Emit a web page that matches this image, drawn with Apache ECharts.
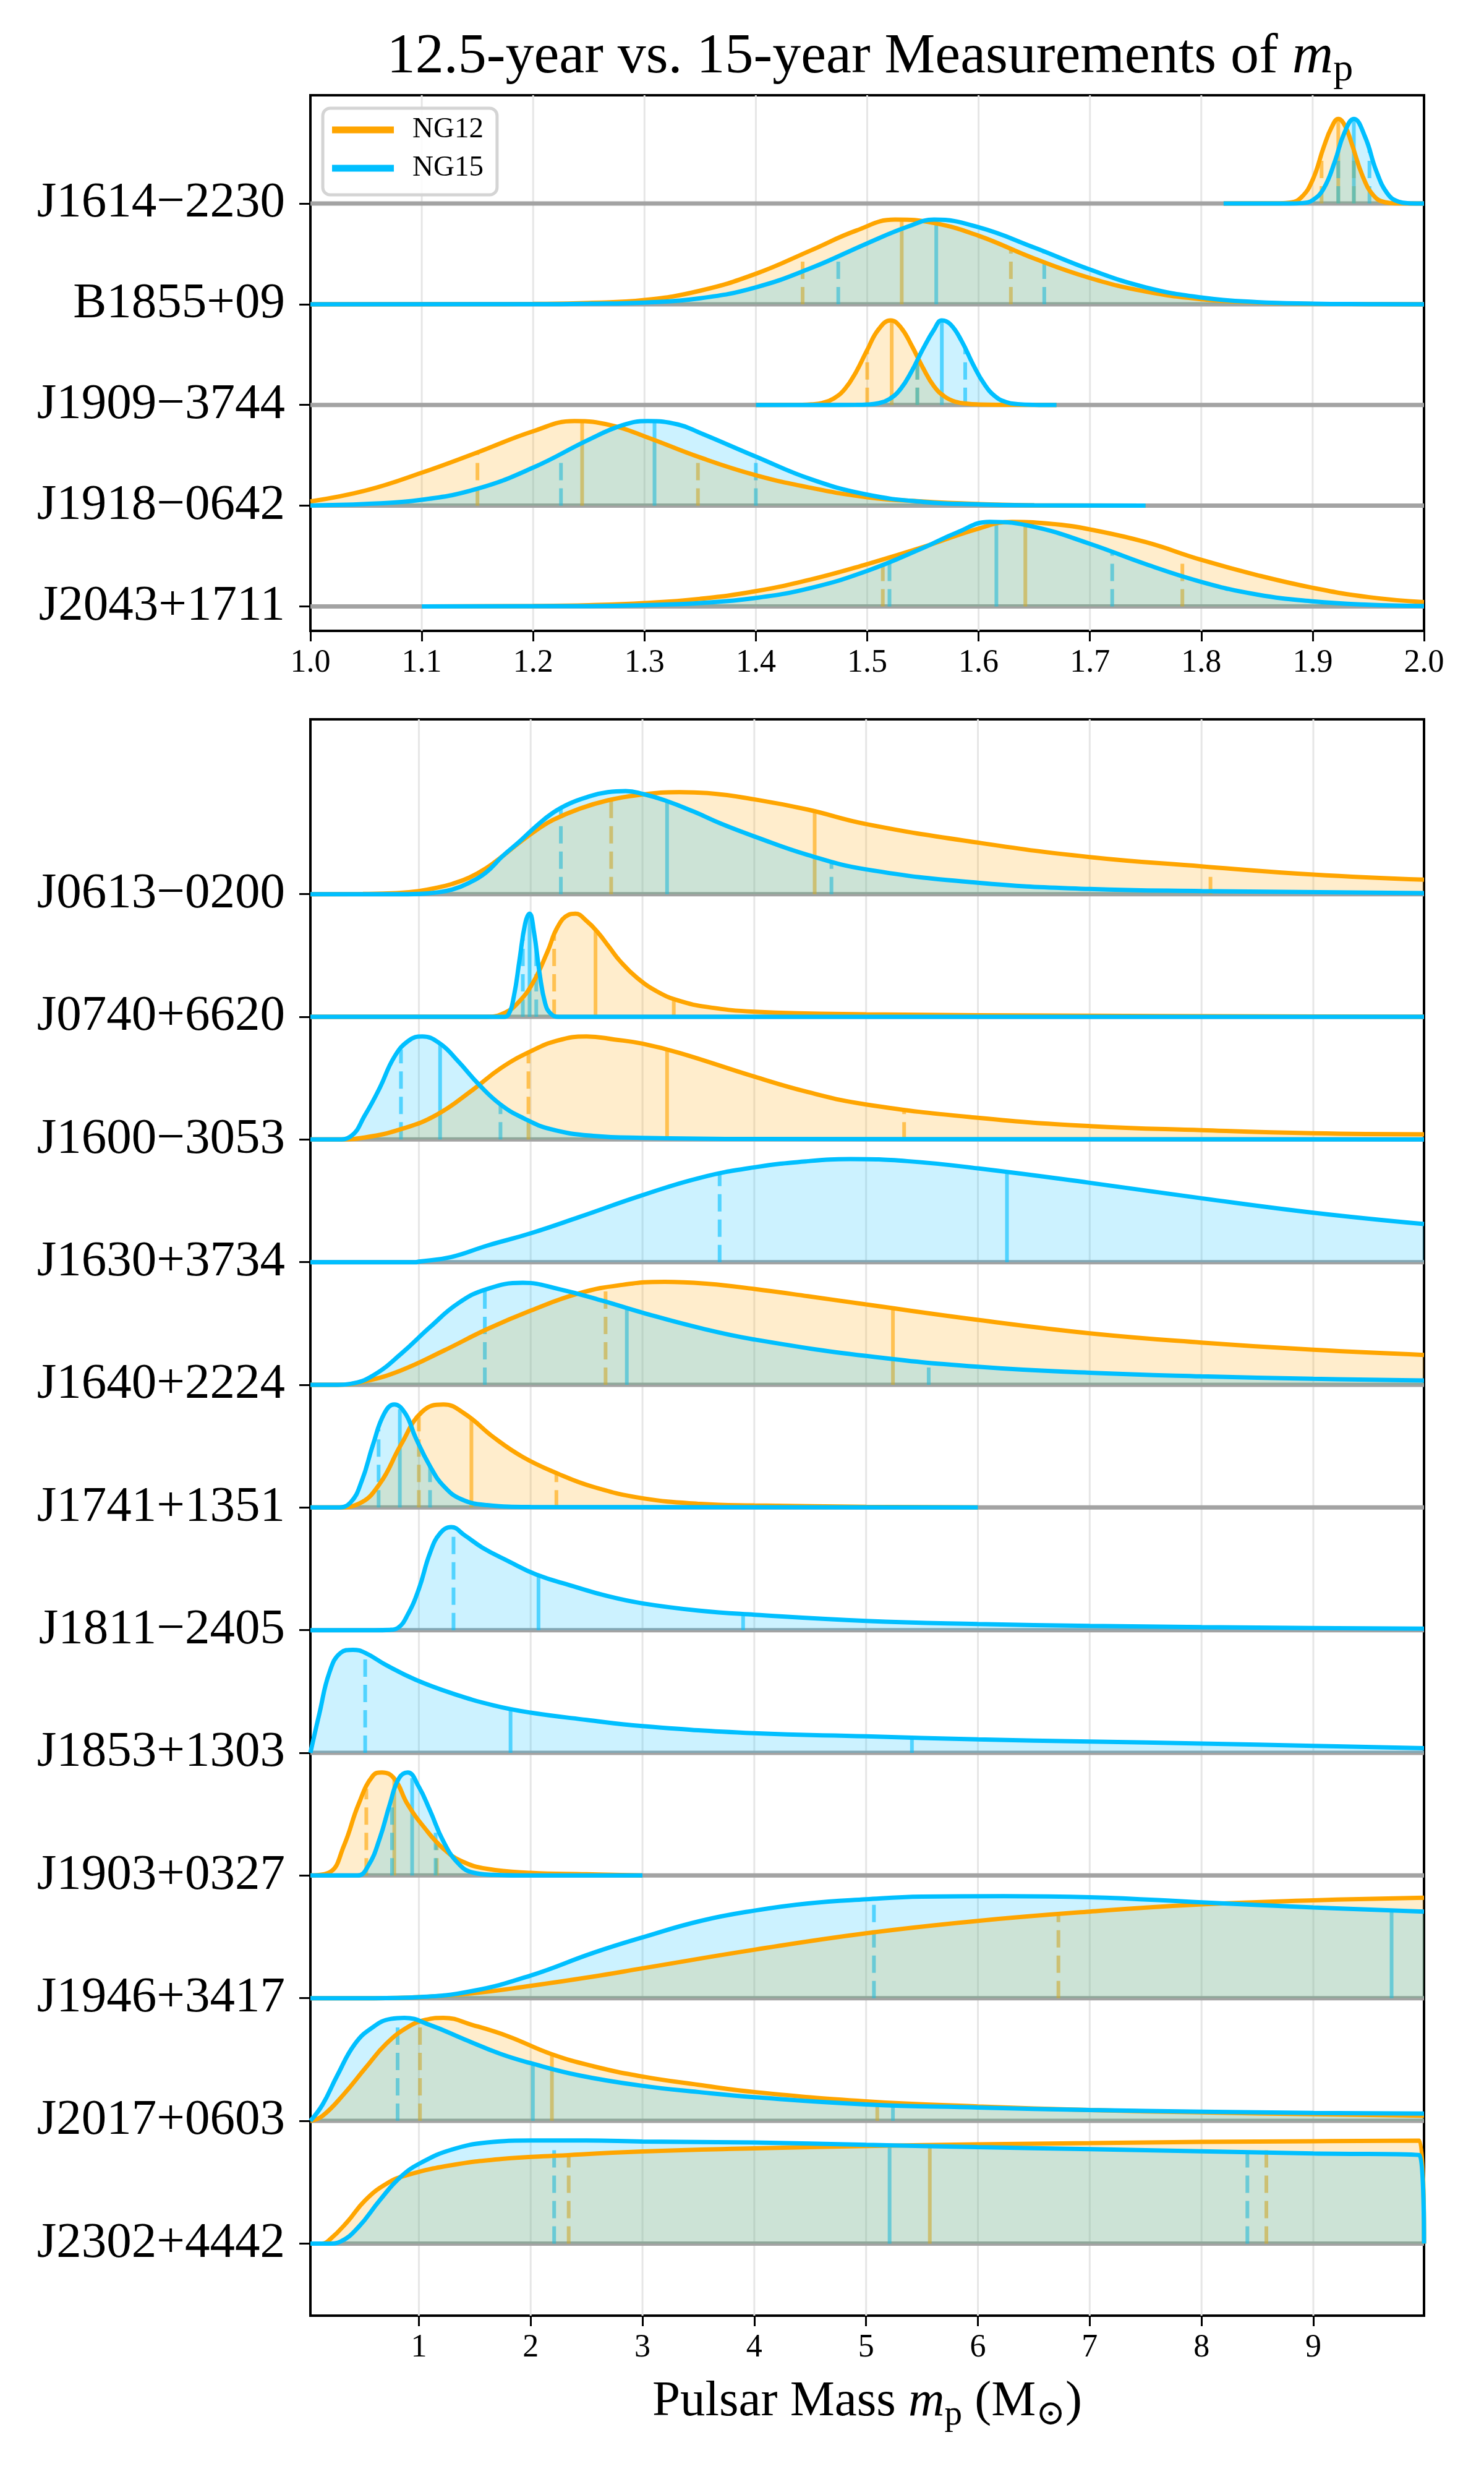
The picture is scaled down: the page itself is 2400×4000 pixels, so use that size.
<!DOCTYPE html>
<html>
<head>
<meta charset="utf-8">
<script src="https://cdn.jsdelivr.net/npm/echarts@6.0.0/dist/echarts.min.js"></script>
<style>
  html, body { margin: 0; padding: 0; background: #fff; }
  #chart { width: 2400px; height: 4000px; }
</style>
</head>
<body>
<div id="chart"></div>
<script>
// ---- data ----
// curves are [mass, density normalised to peak = 1]
const topNames = ['J1614−2230', 'B1855+09', 'J1909−3744', 'J1918−0642', 'J2043+1711'];
const topTicks = [1.1, 1.2, 1.3, 1.4, 1.5, 1.6, 1.7, 1.8, 1.9];

const topNG12 = [
  [[1.82,0],[1.87,0.003],[1.88,0.012],[1.89,0.075],[1.90,0.28],[1.91,0.67],[1.917,0.9],[1.923,1.0],[1.929,0.92],[1.935,0.71],[1.945,0.32],[1.955,0.09],[1.965,0.015],[1.975,0.002],[2.0,0]],
  [[1.0,0],[1.15,0.001],[1.2,0.004],[1.25,0.016],[1.30,0.05],[1.35,0.16],[1.40,0.36],[1.45,0.64],[1.49,0.87],[1.525,1.0],[1.56,0.96],[1.60,0.81],[1.65,0.54],[1.70,0.31],[1.75,0.15],[1.80,0.06],[1.85,0.02],[1.90,0.005],[2.0,0]],
  [[1.40,0],[1.44,0.002],[1.45,0.007],[1.46,0.025],[1.47,0.077],[1.48,0.19],[1.49,0.39],[1.50,0.65],[1.51,0.89],[1.521,1.0],[1.53,0.92],[1.54,0.70],[1.55,0.44],[1.56,0.22],[1.57,0.095],[1.58,0.035],[1.59,0.014],[1.60,0.006],[1.62,0.002],[1.67,0]],
  [[1.0,0.05],[1.05,0.18],[1.10,0.39],[1.15,0.63],[1.20,0.88],[1.237,1.0],[1.27,0.95],[1.30,0.82],[1.35,0.57],[1.40,0.36],[1.45,0.21],[1.50,0.10],[1.55,0.05],[1.60,0.02],[1.65,0.005],[1.75,0]],
  [[1.10,0],[1.20,0.005],[1.25,0.015],[1.30,0.04],[1.35,0.09],[1.40,0.18],[1.45,0.32],[1.50,0.50],[1.55,0.70],[1.60,0.92],[1.63,1.0],[1.67,0.97],[1.70,0.91],[1.75,0.76],[1.80,0.55],[1.85,0.37],[1.90,0.22],[1.95,0.11],[2.0,0.05]]
];
const topNG15 = [
  [[1.82,0],[1.88,0],[1.89,0.005],[1.90,0.04],[1.91,0.18],[1.92,0.50],[1.928,0.82],[1.937,1.0],[1.947,0.79],[1.957,0.39],[1.967,0.12],[1.977,0.022],[1.987,0.003],[2.0,0]],
  [[1.0,0],[1.2,0.001],[1.25,0.006],[1.30,0.02],[1.35,0.07],[1.40,0.20],[1.45,0.43],[1.50,0.72],[1.537,0.92],[1.56,1.0],[1.60,0.91],[1.65,0.67],[1.70,0.41],[1.75,0.20],[1.80,0.08],[1.85,0.025],[1.90,0.007],[1.95,0.002],[2.0,0]],
  [[1.40,0],[1.49,0.001],[1.50,0.005],[1.51,0.02],[1.52,0.07],[1.53,0.19],[1.54,0.40],[1.55,0.66],[1.56,0.89],[1.567,1.0],[1.575,0.95],[1.585,0.75],[1.595,0.48],[1.605,0.25],[1.615,0.10],[1.625,0.033],[1.635,0.01],[1.65,0.001],[1.67,0]],
  [[1.0,0.003],[1.05,0.02],[1.10,0.07],[1.15,0.20],[1.20,0.45],[1.25,0.78],[1.28,0.95],[1.303,1.0],[1.33,0.96],[1.35,0.86],[1.40,0.58],[1.45,0.31],[1.50,0.13],[1.55,0.045],[1.60,0.015],[1.65,0.004],[1.75,0]],
  [[1.10,0],[1.25,0.004],[1.30,0.015],[1.35,0.04],[1.40,0.10],[1.45,0.22],[1.50,0.42],[1.55,0.69],[1.58,0.87],[1.61,1.0],[1.65,0.94],[1.70,0.74],[1.75,0.50],[1.80,0.29],[1.85,0.14],[1.90,0.06],[1.95,0.02],[2.0,0.005]]
];
// 16th, 50th, 84th percentiles
const topQ12 = [[1.908,1.923,1.937],[1.442,1.531,1.629],[1.500,1.522,1.545],[1.150,1.244,1.348],[1.514,1.642,1.783]];
const topQ15 = [[1.923,1.937,1.951],[1.474,1.562,1.659],[1.545,1.567,1.588],[1.225,1.309,1.400],[1.520,1.616,1.720]];

const botNames = ['J0613−0200', 'J0740+6620', 'J1600−3053', 'J1630+3734', 'J1640+2224', 'J1741+1351',
                  'J1811−2405', 'J1853+1303', 'J1903+0327', 'J1946+3417', 'J2017+0603', 'J2302+4442'];
const botTicks = [1, 2, 3, 4, 5, 6, 7, 8, 9];

const botNG12 = [
  [[0.03,0],[0.5,0.002],[0.8,0.01],[1.0,0.03],[1.15,0.06],[1.3,0.1],[1.45,0.16],[1.6,0.25],[1.75,0.37],[1.9,0.5],[2.05,0.62],[2.2,0.72],[2.44,0.83],[2.69,0.91],[2.95,0.96],[3.33,0.99],[3.58,0.98],[4.0,0.92],[4.48,0.82],[5.0,0.68],[6.0,0.50],[7.0,0.36],[8.0,0.27],[9.0,0.19],[9.99,0.14]],
  [[0.03,0],[1.61,0],[1.77,0.04],[1.89,0.14],[2.02,0.33],[2.15,0.63],[2.24,0.87],[2.34,0.99],[2.40,1.0],[2.5,0.93],[2.6,0.82],[2.7,0.68],[2.8,0.54],[2.95,0.38],[3.14,0.24],[3.33,0.155],[3.58,0.095],[4.0,0.05],[5.0,0.024],[7.0,0.01],[9.99,0]],
  [[0.03,0],[0.27,0],[0.52,0.02],[0.84,0.10],[1.16,0.24],[1.48,0.48],[1.73,0.69],[1.99,0.85],[2.24,0.96],[2.50,1.0],[2.75,0.97],[3.0,0.93],[3.33,0.84],[4.0,0.61],[4.48,0.46],[5.0,0.34],[6.0,0.21],[7.0,0.13],[8.0,0.09],[9.0,0.06],[9.99,0.05]],
  null,
  [[0.03,0],[0.27,0],[0.52,0.035],[0.84,0.14],[1.22,0.33],[1.61,0.54],[2.0,0.72],[2.44,0.89],[2.82,0.97],[3.20,1.0],[3.59,0.98],[4.0,0.93],[4.48,0.86],[5.0,0.78],[6.0,0.63],[7.0,0.50],[8.0,0.41],[9.0,0.34],[9.99,0.29]],
  [[0.03,0],[0.27,0],[0.46,0.035],[0.65,0.23],[0.84,0.61],[1.03,0.93],[1.22,1.0],[1.41,0.91],[1.67,0.68],[1.93,0.49],[2.24,0.33],[2.56,0.20],[3.0,0.09],[3.52,0.035],[4.0,0.02],[5.0,0.007],[6.0,0]],
  null,
  null,
  [[0.03,0],[0.20,0.03],[0.33,0.29],[0.46,0.69],[0.59,0.97],[0.67,1.0],[0.78,0.94],[0.90,0.69],[1.06,0.45],[1.22,0.26],[1.38,0.14],[1.61,0.065],[2.0,0.026],[2.5,0.012],[3.0,0]],
  [[0.03,0],[0.6,0],[1.0,0.01],[1.48,0.047],[2.0,0.12],[2.56,0.21],[3.0,0.29],[4.0,0.47],[5.0,0.63],[6.0,0.75],[7.0,0.84],[8.0,0.91],[9.0,0.95],[9.99,0.975]],
  [[0.03,0],[0.14,0.05],[0.33,0.26],[0.52,0.51],[0.71,0.75],[0.90,0.91],[1.06,0.98],[1.22,1.0],[1.48,0.93],[1.80,0.82],[2.18,0.65],[2.56,0.53],[3.0,0.43],[3.5,0.35],[4.0,0.28],[5.0,0.19],[6.0,0.14],[7.0,0.105],[8.0,0.082],[9.0,0.065],[9.99,0.05]],
  [[0.03,0],[0.13,0],[0.20,0.035],[0.36,0.21],[0.52,0.42],[0.71,0.58],[0.90,0.666],[1.29,0.76],[1.73,0.82],[2.24,0.853],[3.0,0.893],[4.0,0.923],[5.0,0.946],[6.0,0.963],[7.0,0.974],[8.0,0.986],[9.0,0.993],[9.95,0.998],[9.99,0]]
];
const botNG15 = [
  [[0.03,0],[0.9,0],[1.0,0.002],[1.15,0.015],[1.3,0.045],[1.45,0.11],[1.6,0.21],[1.75,0.37],[1.9,0.51],[2.05,0.66],[2.2,0.79],[2.35,0.88],[2.5,0.94],[2.69,0.99],[2.85,1.0],[3.01,0.97],[3.20,0.91],[3.46,0.80],[3.71,0.68],[4.0,0.56],[4.48,0.38],[5.0,0.24],[6.0,0.11],[7.0,0.05],[8.0,0.03],[9.99,0.01]],
  [[0.03,0],[1.75,0],[1.80,0.02],[1.85,0.2],[1.90,0.55],[1.95,0.9],[1.99,1.0],[2.03,0.82],[2.08,0.42],[2.13,0.13],[2.18,0.03],[2.25,0],[9.99,0]],
  [[0.03,0],[0.27,0],[0.39,0.03],[0.52,0.24],[0.65,0.50],[0.78,0.80],[0.91,0.96],[1.03,1.0],[1.19,0.93],[1.35,0.76],[1.54,0.53],[1.73,0.34],[1.93,0.21],[2.18,0.10],[2.56,0.035],[3.0,0.016],[4.0,0.005],[9.99,0]],
  [[0.03,0],[0.97,0],[1.0,0.005],[1.29,0.05],[1.61,0.16],[2.0,0.28],[2.44,0.44],[3.0,0.65],[3.52,0.82],[4.0,0.92],[4.48,0.98],[4.86,1.0],[5.37,0.98],[6.0,0.91],[7.0,0.77],[8.0,0.62],[9.0,0.48],[9.99,0.37]],
  [[0.03,0],[0.27,0],[0.39,0.01],[0.59,0.09],[0.84,0.30],[1.10,0.56],[1.35,0.79],[1.61,0.93],[1.93,0.99],[2.25,0.93],[2.63,0.82],[3.0,0.70],[3.52,0.55],[4.0,0.44],[5.0,0.28],[6.0,0.175],[7.0,0.117],[8.0,0.082],[9.0,0.058],[9.99,0.042]],
  [[0.03,0],[0.27,0],[0.39,0.05],[0.49,0.26],[0.59,0.61],[0.69,0.91],[0.78,1.0],[0.88,0.91],[0.97,0.68],[1.10,0.40],[1.22,0.21],[1.38,0.08],[1.61,0.023],[2.0,0.005],[6.0,0]],
  [[0.03,0],[0.6,0],[0.74,0.003],[0.81,0.02],[0.90,0.15],[1.0,0.40],[1.10,0.75],[1.19,0.94],[1.29,1.0],[1.41,0.92],[1.57,0.80],[1.80,0.67],[2.05,0.54],[2.37,0.43],[2.69,0.33],[3.0,0.26],[3.5,0.19],[4.0,0.15],[5.0,0.09],[6.0,0.06],[7.0,0.042],[8.0,0.03],[9.0,0.021],[9.99,0.014]],
  [[0.03,0],[0.11,0.38],[0.20,0.78],[0.30,0.97],[0.41,1.0],[0.52,0.97],[0.71,0.85],[0.97,0.71],[1.29,0.58],[1.67,0.46],[2.0,0.39],[2.5,0.32],[3.0,0.26],[4.0,0.19],[5.0,0.16],[6.0,0.13],[7.0,0.11],[8.0,0.09],[9.0,0.068],[9.99,0.045]],
  [[0.03,0],[0.45,0],[0.55,0.10],[0.65,0.36],[0.74,0.69],[0.82,0.94],[0.90,1.0],[1.0,0.86],[1.10,0.63],[1.22,0.33],[1.35,0.12],[1.48,0.03],[1.67,0.007],[2.0,0],[3.0,0]],
  [[0.03,0],[0.6,0],[1.0,0.01],[1.48,0.07],[2.0,0.22],[2.56,0.44],[3.0,0.59],[3.52,0.75],[4.0,0.85],[4.48,0.92],[5.0,0.96],[5.5,0.985],[6.23,0.99],[7.0,0.98],[8.0,0.93],[9.0,0.88],[9.99,0.84]],
  [[0.03,0],[0.14,0.16],[0.27,0.44],[0.43,0.75],[0.59,0.91],[0.75,0.99],[0.87,1.0],[1.10,0.93],[1.41,0.79],[1.73,0.65],[2.0,0.56],[2.44,0.44],[3.0,0.34],[3.5,0.28],[4.0,0.23],[5.0,0.16],[6.0,0.13],[7.0,0.105],[8.0,0.089],[9.0,0.077],[9.99,0.07]],
  [[0.03,0],[0.2,0],[0.30,0.02],[0.46,0.16],[0.65,0.42],[0.84,0.65],[1.03,0.79],[1.29,0.91],[1.61,0.98],[2.0,1.0],[2.5,1.0],[3.0,0.99],[4.0,0.98],[5.0,0.958],[6.0,0.935],[7.0,0.916],[8.0,0.895],[9.0,0.874],[9.95,0.857],[9.99,0]]
];
const botQ12 = [[2.72,4.54,8.08],[2.21,2.58,3.28],[1.98,3.22,5.34],null,[2.67,5.24,null],[1.00,1.47,2.23],
                null,null,[0.53,0.78,1.16],[6.72,null,null],[1.01,2.19,5.10],[2.34,5.57,8.58]];
const botQ15 = [[2.27,3.22,4.69],[1.93,1.99,2.05],[0.84,1.19,1.73],[3.69,6.26,null],[1.59,2.86,5.56],[0.64,0.83,1.10],
                [1.31,2.07,3.90],[0.52,1.82,5.41],[0.76,0.94,1.15],[5.07,9.70,null],[0.81,2.02,5.24],[2.21,5.21,8.41]];

// ---- styling ----
const FONT = "'Liberation Serif', 'DejaVu Serif', serif";
const ORANGE = '#FFA500';
const CYAN = '#00BFFF';
const RIDGE = 0.84;   // peak height as a fraction of the row spacing
const TOP_X = [1.0, 2.0];
const BOT_X = [0.03, 9.99];

function heightAt(pts, x) {
  for (let k = 1; k < pts.length; k++) {
    if (x <= pts[k][0]) {
      const [x0, y0] = pts[k - 1], [x1, y1] = pts[k];
      return y0 + (y1 - y0) * (x - x0) / (x1 - x0);
    }
  }
  return 0;
}

function curveSeries(panel, names, curves, color, fill, label) {
  const out = [];
  curves.forEach((pts, i) => {
    if (!pts) return;
    const base = names.length - 1 - i;
    out.push({
      type: 'line', name: label, xAxisIndex: panel, yAxisIndex: panel,
      data: pts.map(p => [p[0], base + RIDGE * p[1]]),
      smooth: 0.45, showSymbol: false, symbol: 'none',
      lineStyle: { color: color, width: 7 },
      itemStyle: { color: color },
      areaStyle: { color: fill, origin: base, opacity: 1 },
      silent: true
    });
  });
  return out;
}

function quantSeries(panel, names, curves, quants, color) {
  const data = [];
  quants.forEach((qs, i) => {
    if (!qs) return;
    const base = names.length - 1 - i;
    qs.forEach((q, j) => {
      if (q == null) return;
      data.push([q, base, base + RIDGE * heightAt(curves[i], q), j === 1 ? 0 : 1]);
    });
  });
  return {
    type: 'custom', xAxisIndex: panel, yAxisIndex: panel, silent: true, data: data,
    renderItem: function (params, api) {
      const p0 = api.coord([api.value(0), api.value(1)]);
      const p1 = api.coord([api.value(0), api.value(2)]);
      return {
        type: 'line',
        shape: { x1: p0[0], y1: p0[1], x2: p1[0], y2: p1[1] },
        style: { stroke: color, lineWidth: 6, lineDash: api.value(3) ? [28, 13] : null }
      };
    }
  };
}

function gridSeries(panel, ticks) {
  return {
    type: 'custom', xAxisIndex: panel, yAxisIndex: panel, silent: true,
    data: ticks.map(t => [t, 0]),
    renderItem: function (params, api) {
      const x = api.coord([api.value(0), 0])[0];
      const cs = params.coordSys;
      return { type: 'line', shape: { x1: x, y1: cs.y, x2: x, y2: cs.y + cs.height },
               style: { stroke: '#e6e6e6', lineWidth: 3 } };
    }
  };
}

function baseSeries(panel, names, xmin) {
  return {
    type: 'custom', xAxisIndex: panel, yAxisIndex: panel, silent: true,
    data: names.map((n, i) => [xmin, names.length - 1 - i]),
    renderItem: function (params, api) {
      const y = api.coord([api.value(0), api.value(1)])[1];
      const cs = params.coordSys;
      return { type: 'line', shape: { x1: cs.x, y1: y, x2: cs.x + cs.width, y2: y },
               style: { stroke: '#a3a3a3', lineWidth: 7 } };
    }
  };
}

function yAxisFor(panel, names, min, max) {
  const rows = names.map((n, i) => i);
  return {
    gridIndex: panel, type: 'value', min: min, max: max,
    axisLine: { show: true, onZero: false, lineStyle: { color: '#000', width: 4 } },
    axisTick: { show: true, customValues: rows, length: 18, lineStyle: { color: '#000', width: 3 } },
    axisLabel: {
      customValues: rows, margin: 41, color: '#000', fontFamily: FONT, fontSize: 81,
      formatter: v => names[names.length - 1 - Math.round(v)]
    },
    splitLine: { show: false }
  };
}

const chart = echarts.init(document.getElementById('chart'));

const option = {
  animation: false,
  backgroundColor: '#fff',
  title: {
    text: '12.5-year vs. 15-year Measurements of {i|m}{s|p}',
    left: 1402, top: 36, textAlign: 'center',
    textStyle: {
      fontFamily: FONT, fontSize: 92, fontWeight: 'normal', color: '#000', lineHeight: 104,
      rich: {
        i: { fontFamily: FONT, fontStyle: 'italic', fontSize: 92, lineHeight: 104 },
        s: { fontFamily: FONT, fontSize: 64, lineHeight: 64, padding: [40, 0, 0, 0] }
      }
    }
  },
  legend: {
    data: [{ name: 'NG12', itemStyle: { color: ORANGE } }, { name: 'NG15', itemStyle: { color: CYAN } }],
    orient: 'vertical', left: 522, top: 175, icon: 'rect',
    itemWidth: 100, itemHeight: 11, itemGap: 12,
    padding: [10, 22, 18, 15],
    backgroundColor: 'rgba(255,255,255,0.85)', borderColor: '#d4d4d4', borderWidth: 5, borderRadius: 12,
    selectedMode: false,
    textStyle: { fontFamily: FONT, fontSize: 47, lineHeight: 50, color: '#000', padding: [0, 0, 0, 25] }
  },
  grid: [
    { left: 502, top: 154, width: 1801, height: 866, show: true, borderColor: '#000', borderWidth: 4 },
    { left: 502, top: 1163, width: 1801, height: 2581, show: true, borderColor: '#000', borderWidth: 4 }
  ],
  xAxis: [
    {
      gridIndex: 0, type: 'value', min: TOP_X[0], max: TOP_X[1], interval: 0.1,
      axisLine: { show: true, onZero: false, lineStyle: { color: '#000', width: 4 } },
      axisTick: { show: true, length: 17, lineStyle: { color: '#000', width: 3 } },
      axisLabel: { formatter: v => v.toFixed(1), margin: 26, color: '#000', fontFamily: FONT, fontSize: 52 },
      splitLine: { show: false }
    },
    {
      gridIndex: 1, type: 'value', min: BOT_X[0], max: BOT_X[1],
      axisLine: { show: true, onZero: false, lineStyle: { color: '#000', width: 4 } },
      axisTick: { show: true, customValues: botTicks, length: 17, lineStyle: { color: '#000', width: 3 } },
      axisLabel: { customValues: botTicks, formatter: v => String(Math.round(v)), margin: 26,
                   color: '#000', fontFamily: FONT, fontSize: 52 },
      splitLine: { show: false },
      name: 'Pulsar Mass {i|m}{s|p} (M{s|⊙})',
      nameLocation: 'middle', nameGap: 90,
      nameTextStyle: {
        fontFamily: FONT, fontSize: 81, color: '#000', lineHeight: 100,
        rich: {
          i: { fontFamily: FONT, fontStyle: 'italic', fontSize: 81, lineHeight: 100 },
          s: { fontFamily: FONT, fontSize: 57, lineHeight: 57, padding: [43, 0, 0, 0] }
        }
      }
    }
  ],
  yAxis: [
    yAxisFor(0, topNames, -0.243, 5.075),
    yAxisFor(1, botNames, -0.588, 12.425)
  ],
  series: [].concat(
    gridSeries(0, topTicks),
    gridSeries(1, botTicks),
    baseSeries(0, topNames, TOP_X[0]),
    baseSeries(1, botNames, BOT_X[0]),
    curveSeries(0, topNames, topNG12, ORANGE, 'rgba(255,165,0,0.2)', 'NG12'),
    curveSeries(1, botNames, botNG12, ORANGE, 'rgba(255,165,0,0.2)', 'NG12'),
    quantSeries(0, topNames, topNG12, topQ12, 'rgba(255,165,0,0.6)'),
    quantSeries(1, botNames, botNG12, botQ12, 'rgba(255,165,0,0.6)'),
    curveSeries(0, topNames, topNG15, CYAN, 'rgba(0,191,255,0.2)', 'NG15'),
    curveSeries(1, botNames, botNG15, CYAN, 'rgba(0,191,255,0.2)', 'NG15'),
    quantSeries(0, topNames, topNG15, topQ15, 'rgba(0,191,255,0.6)'),
    quantSeries(1, botNames, botNG15, botQ15, 'rgba(0,191,255,0.6)')
  )
};

chart.setOption(option);
</script>
</body>
</html>
